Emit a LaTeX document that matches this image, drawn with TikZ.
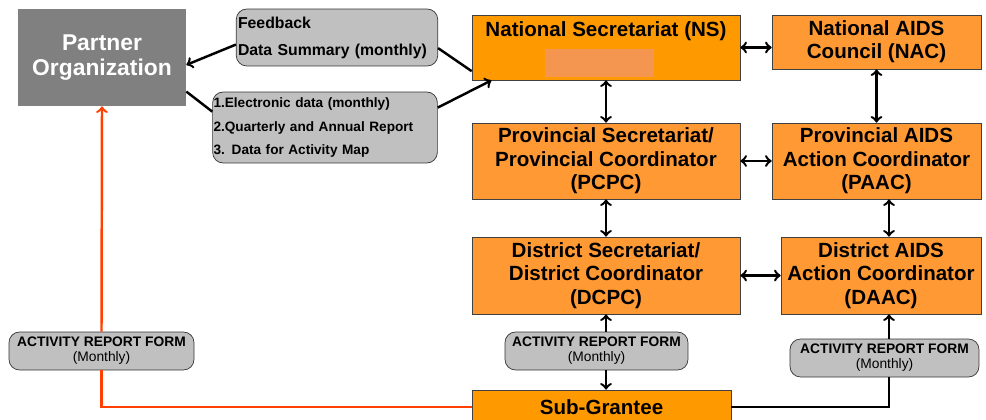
\documentclass[tikz,border=0pt]{standalone}
\usepackage{fontspec}
\setmainfont{Liberation Sans}
\definecolor{deeporange}{RGB}{255,153,0}
\definecolor{softorange}{RGB}{255,153,51}
\definecolor{boxgray}{RGB}{192,192,192}
\definecolor{partnergray}{RGB}{128,128,128}
\definecolor{maskpink}{RGB}{244,150,80}
\definecolor{reportred}{RGB}{255,64,0}

\begin{document}
\begin{tikzpicture}[x=0.02cm, y=-0.02cm,
        unit/.style={draw=black!75, fill=softorange, inner sep=0pt, align=center,
            font=\fontsize{11.7}{13.3}\selectfont\bfseries},
        note/.style={draw=black!80, fill=boxgray, rounded corners=6pt, inner sep=0pt},
        form/.style={note, align=center, minimum height=0.76cm,
            font=\fontsize{7.85}{8.6}\selectfont},
        link/.style={line width=1.4pt, >=to},
        redlink/.style={line width=1.4pt, draw=reportred, >=to}]
        \useasboundingbox (0,0) rectangle (986,419);
        \clip (0,0) rectangle (986,419);

        \node[fill=partnergray, text=white, inner sep=0pt, align=center,
            minimum width=3.36cm, minimum height=1.94cm,
            font=\fontsize{13}{14.4}\selectfont\bfseries] (partner) at (102,57.5) {Partner\\Organization};
        \node[note, align=left, text width=3.96cm, minimum height=1.14cm, inner xsep=1pt,
            font=\fontsize{9}{15.3}\selectfont\bfseries] (feedback) at (337,37.5) {Feedback\\Data Summary (monthly)};
        \node[note, align=left, text width=4.46cm, minimum height=1.42cm, inner xsep=0.5pt,
            font=\fontsize{7.75}{13.3}\selectfont\bfseries] (edata) at (325,127.5)
            {1.Electronic data (monthly)\\2.Quarterly and Annual Report\\3. Data for Activity Map};

        \node[unit, fill=deeporange, minimum width=5.36cm, minimum height=1.3cm] (ns) at (606,47.5) {};
        \node[font=\fontsize{11.7}{13.3}\selectfont\bfseries, inner sep=0pt] (nstitle) at (606,31) {National Secretariat (NS)};
        \fill[maskpink] (545,49) rectangle (654,77);
        \node[unit, minimum width=4.18cm, minimum height=1.08cm] (nac) at (876.5,42) {National AIDS\\Council (NAC)};
        \node[unit, minimum width=5.36cm, minimum height=1.52cm] (pcpc) at (606,161)
            {Provincial Secretariat/\\Provincial Coordinator\\(PCPC)};
        \node[unit, minimum width=4.18cm, minimum height=1.52cm] (paac) at (876.5,161)
            {Provincial AIDS\\Action Coordinator\\(PAAC)};
        \node[unit, minimum width=5.36cm, minimum height=1.54cm] (dcpc) at (606,275.5)
            {District Secretariat/\\District Coordinator\\(DCPC)};
        \node[unit, minimum width=4cm, minimum height=1.54cm] (daac) at (881,275.5)
            {District AIDS\\Action Coordinator\\(DAAC)};
        \node[unit, fill=deeporange, minimum width=5.18cm, minimum height=0.68cm] (sub) at (601.5,407) {Sub-Grantee};

        \node[form, minimum width=3.7cm] (arf1) at (101.5,351) {\textbf{ACTIVITY REPORT FORM}\\(Monthly)};
        \node[form, minimum width=3.66cm] (arf2) at (596.5,351) {\textbf{ACTIVITY REPORT FORM}\\(Monthly)};
        \node[form, minimum width=3.78cm] (arf3) at (884.5,358) {\textbf{ACTIVITY REPORT FORM}\\(Monthly)};
        \coordinate (rcol) at (889,0);

        \draw[link, ->] (feedback.184) -- (partner.355);
        \draw[link] (feedback.354) -- (ns.190);
        \draw[link] (partner.338) -- (edata.172);
        \draw[link, ->] (edata.10) -- (ns.196);

        \draw[link, <->] (ns.east) -- (ns.east -| nac.west);
        \draw[link, <->] (ns.south) -- (pcpc.north);
        \draw[link, <->] (nac.south) -- (paac.north);
        \draw[link, <->] (pcpc.east) -- (paac.west);
        \draw[link, <->] (pcpc.south) -- (dcpc.north);
        \draw[link, <->] (paac.south -| rcol) -- (daac.north -| rcol);
        \draw[link, <->] (dcpc.east) -- (daac.west);

        \draw[link, ->] (arf2.north -| dcpc) -- (dcpc.south);
        \draw[link, ->] (arf2.south -| dcpc) -- (sub.north -| dcpc);
        \draw[link] (sub.east) -| (arf3.south -| rcol);
        \draw[link, ->] (arf3.north -| rcol) -- (daac.south -| rcol);

        \draw[redlink] (sub.west) -| (arf1.south);
        \draw[redlink, ->] (arf1.north) -- (partner.south);
    \end{tikzpicture}
\end{document}
